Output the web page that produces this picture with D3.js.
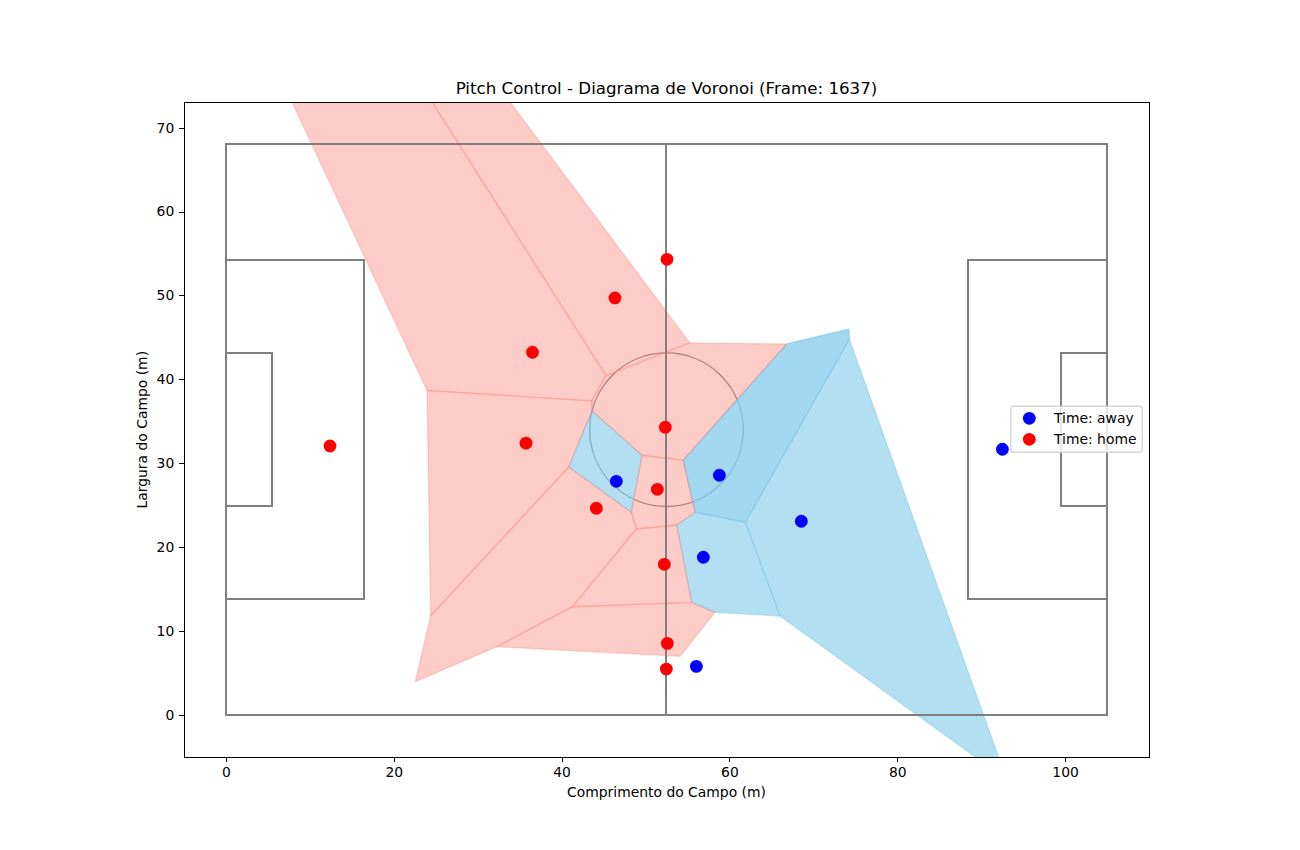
<!DOCTYPE html>
<html>
<head>
  <meta charset="utf-8">
  <title>Pitch Control - Voronoi</title>
  <script src="https://d3js.org/d3.v7.min.js"></script>
  <style>
    body { margin: 0; background: #fff; }
    svg { display: block; }
    text { font-family: "DejaVu Sans", sans-serif; fill: #000; }
  </style>
</head>
<body>
  <svg width="1300" height="850"></svg>

  <script>
    const xTicks = [0, 20, 40, 60, 80, 100];
    const yTicks = [0, 10, 20, 30, 40, 50, 60, 70];

    // jogadores (x, y em metros)
    const awayPlayers = [[46.52, 27.85], [58.8, 28.57], [68.57, 23.09], [56.89, 18.8], [56.06, 5.8], [92.53, 31.67]];
    const homePlayers = [[12.4, 32.06], [35.76, 32.4], [36.53, 43.23], [46.36, 49.7], [52.56, 54.3], [52.36, 34.29],
                         [51.41, 26.9], [44.14, 24.64], [52.24, 17.96], [52.6, 8.54], [52.48, 5.48]];

    // celulas de Voronoi
    const homeCells = [
      [[7.43, 74], [23.95, 74], [45.29, 40.44], [43.59, 37.43], [23.96, 38.68]],
      [[23.95, 74], [33.15, 74], [55.27, 44.34], [45.29, 40.44]],
      [[45.29, 40.44], [55.27, 44.34], [66.83, 44.22], [54.5, 30.36], [49.58, 30.95], [43.62, 36.27], [43.59, 37.43]],
      [[23.96, 38.68], [43.59, 37.43], [43.62, 36.27], [40.85, 29.56], [24.4, 11.84]],
      [[24.4, 11.84], [40.85, 29.56], [48.31, 24.16], [48.9, 22.17], [41.28, 12.91], [32.26, 8.14], [22.56, 3.97]],
      [[49.58, 30.95], [54.5, 30.36], [55.9, 24.16], [53.72, 22.65], [48.9, 22.17], [48.31, 24.16]],
      [[48.9, 22.17], [53.72, 22.65], [55.5, 13.43], [41.28, 12.91]],
      [[41.28, 12.91], [55.5, 13.43], [58.28, 12.24], [54.11, 7.0], [32.26, 8.14]]
    ];
    const darkCell = [[54.5, 30.36], [66.83, 44.22], [74.22, 45.97], [74.29, 44.78], [61.9, 22.97], [55.9, 24.16]];
    const awayCells = [
      [[43.62, 36.27], [49.58, 30.95], [48.31, 24.16], [40.85, 29.56]],
      darkCell,
      [[61.9, 22.97], [74.29, 44.78], [92.42, -6], [90.7, -6], [66.03, 11.8]],
      [[55.9, 24.16], [61.9, 22.97], [66.03, 11.8], [58.28, 12.24], [55.5, 13.43], [53.72, 22.65]]
    ];

    // linhas do campo
    const pitchLines = [
      [[0, 0], [105, 0], [105, 68], [0, 68], [0, 0]],
      [[52.5, 0], [52.5, 68]],
      [[0, 13.84], [16.5, 13.84], [16.5, 54.16], [0, 54.16]],
      [[105, 13.84], [88.5, 13.84], [88.5, 54.16], [105, 54.16]],
      [[0, 24.84], [5.5, 24.84], [5.5, 43.16], [0, 43.16]],
      [[105, 24.84], [99.5, 24.84], [99.5, 43.16], [105, 43.16]]
    ];
    const centerSpot = [52.5, 34];
    const centerRadius = 9.15;

    const legendItems = [["Time: away", "blue"], ["Time: home", "red"]];

    const plotLeft = 184, plotRight = 1149, plotTop = 102.4, plotBottom = 757;
    const svg = d3.select("svg");
    const x = d3.scaleLinear().domain([-5, 110]).range([plotLeft, plotRight]);
    const y = d3.scaleLinear().domain([-5, 73]).range([plotBottom, plotTop]);

    svg.append("clipPath").attr("id", "plot")
      .append("rect").attr("x", plotLeft).attr("y", plotTop)
      .attr("width", plotRight - plotLeft).attr("height", plotBottom - plotTop);

    const g = svg.append("g").attr("clip-path", "url(#plot)");
    const line = d3.line().x(d => x(d[0])).y(d => y(d[1]));

    // circulo central fica por baixo das celulas
    g.append("circle")
      .attr("cx", x(centerSpot[0])).attr("cy", y(centerSpot[1]))
      .attr("r", x(centerRadius) - x(0))
      .attr("fill", "none").attr("stroke", "gray").attr("stroke-width", 1.39);

    function drawCells(cells, color, alpha, edgeAlpha) {
      g.selectAll(null).data(cells).enter().append("path")
        .attr("d", d => line(d) + "Z")
        .attr("fill", color).attr("fill-opacity", alpha)
        .attr("stroke", color).attr("stroke-opacity", edgeAlpha)
        .attr("stroke-width", 1.39).attr("stroke-linejoin", "round");
    }
    drawCells(awayCells, "skyblue", 0.64, 0.5);
    drawCells([darkCell], "skyblue", 0.4, 0.4); // essa regiao aparece mais escura
    drawCells(homeCells, "salmon", 0.4, 0.3);

    g.selectAll(".pitch").data(pitchLines).enter().append("path")
      .attr("class", "pitch")
      .attr("d", line)
      .attr("transform", "translate(-0.3,-0.3)")
      .attr("fill", "none").attr("stroke", "gray").attr("stroke-width", 2)
      .attr("stroke-linecap", "square")
      .attr("shape-rendering", "crispEdges");

    function drawPlayers(players, color) {
      g.selectAll(null).data(players).enter().append("circle")
        .attr("cx", d => x(d[0])).attr("cy", d => y(d[1]))
        .attr("r", 6.4).attr("fill", color);
    }
    drawPlayers(awayPlayers, "blue");
    drawPlayers(homePlayers, "red");

    // eixos
    const xAxis = svg.append("g").attr("transform", `translate(0,${plotBottom})`)
      .call(d3.axisBottom(x).tickValues(xTicks).tickSize(4.86).tickPadding(4.86).tickSizeOuter(0));
    const yAxis = svg.append("g").attr("transform", `translate(${plotLeft},0)`)
      .call(d3.axisLeft(y).tickValues(yTicks).tickSize(4.86).tickPadding(4.86).tickSizeOuter(0));
    [xAxis, yAxis].forEach(a => {
      a.select(".domain").remove();
      a.selectAll("line").attr("stroke", "#000").attr("stroke-width", 1).attr("shape-rendering", "crispEdges");
      a.selectAll("text").style("font-size", "13.9px").style("font-family", '"DejaVu Sans", sans-serif');
    });
    svg.append("rect")
      .attr("x", plotLeft).attr("y", plotTop).attr("width", plotRight - plotLeft).attr("height", plotBottom - plotTop)
      .attr("fill", "none").attr("stroke", "#000").attr("stroke-width", 1).attr("shape-rendering", "crispEdges");

    // textos
    svg.append("text").attr("x", (plotLeft + plotRight) / 2).attr("y", 94)
      .attr("text-anchor", "middle").style("font-size", "16.67px")
      .text("Pitch Control - Diagrama de Voronoi (Frame: 1637)");
    svg.append("text").attr("x", (plotLeft + plotRight) / 2).attr("y", 797)
      .attr("text-anchor", "middle").style("font-size", "13.9px")
      .text("Comprimento do Campo (m)");
    svg.append("text").attr("transform", `translate(147,${(plotTop + plotBottom) / 2}) rotate(-90)`)
      .attr("text-anchor", "middle").style("font-size", "13.9px")
      .text("Largura do Campo (m)");

    // legenda
    const legend = svg.append("g").attr("transform", "translate(1010,407)");
    legend.append("rect").attr("x", 0.7).attr("y", -0.8).attr("width", 131.6).attr("height", 46).attr("rx", 3)
      .attr("fill", "#fff").attr("fill-opacity", 0.8)
      .attr("stroke", "#ccc").attr("stroke-opacity", 0.8).attr("stroke-width", 1.39);
    legendItems.forEach((d, i) => {
      legend.append("circle").attr("cx", 19.3).attr("cy", 11.3 + i * 21)
        .attr("r", 6.4).attr("fill", d[1]);
      legend.append("text").attr("x", 44).attr("y", 16 + i * 21)
        .style("font-size", "13.9px").text(d[0]);
    });
  </script>
</body>
</html>
